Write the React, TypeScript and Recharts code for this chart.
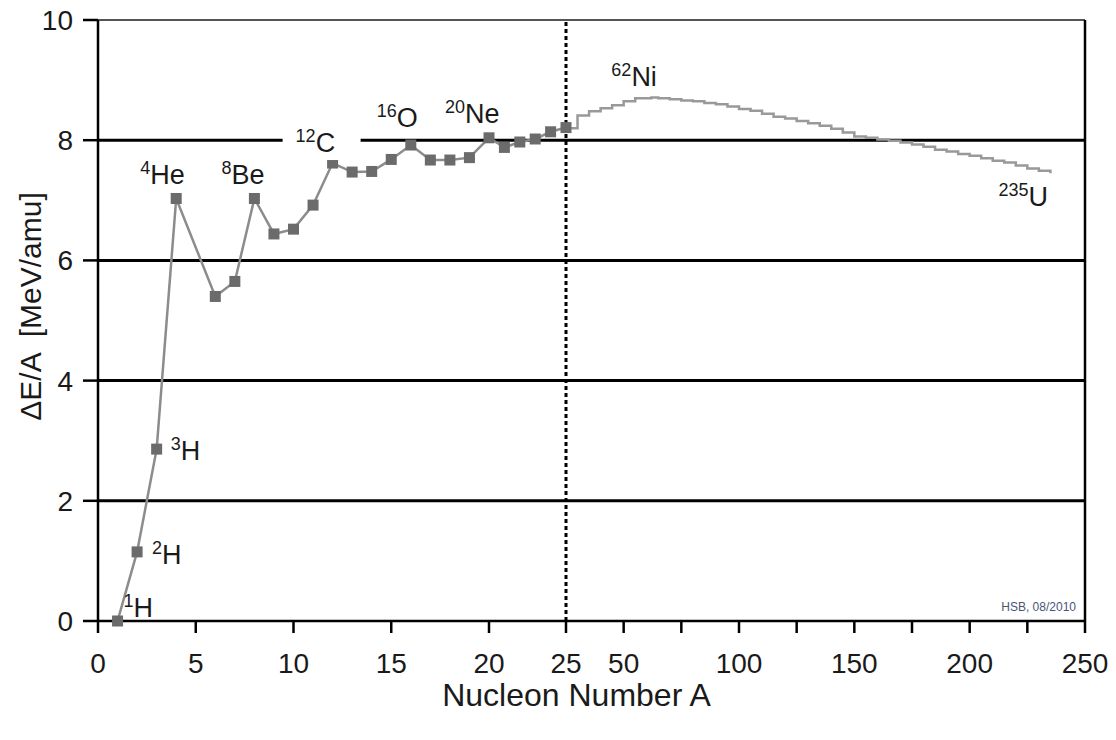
import React from 'react';
import { LineChart, Line, XAxis, YAxis, ReferenceLine, ReferenceDot } from 'recharts';

// light nuclei, one marker per mass number
const lightA = [1, 2, 3, 4, 6, 7, 8, 9, 10, 11, 12, 13, 14, 15, 16, 17, 18, 19, 20, 21, 22, 23, 24, 25];
const lightBE = [0, 1.15, 2.86, 7.03, 5.4, 5.65, 7.03, 6.44, 6.52, 6.92, 7.62, 7.47, 7.48, 7.68, 7.92, 7.67, 7.67, 7.71, 8.04, 7.88, 7.97, 8.02, 8.14, 8.21];

// heavier nuclei, plotted as a plain line
const heavyA = [25, 30, 35, 40, 45, 50, 55, 62, 65, 70, 75, 80, 85, 90, 95, 100, 105, 110, 115, 120, 125, 130, 135, 140, 145, 150, 155, 160, 165, 170, 175, 180, 185, 190, 195, 200, 205, 210, 215, 220, 225, 230, 235];
const heavyBE = [8.2, 8.41, 8.48, 8.53, 8.58, 8.65, 8.7, 8.71, 8.7, 8.68, 8.66, 8.65, 8.62, 8.6, 8.56, 8.52, 8.49, 8.44, 8.39, 8.36, 8.32, 8.28, 8.24, 8.19, 8.13, 8.06, 8.04, 8.01, 7.99, 7.96, 7.93, 7.89, 7.84, 7.81, 7.77, 7.74, 7.7, 7.66, 7.63, 7.58, 7.53, 7.49, 7.45];

const xTickA = [0, 5, 10, 15, 20, 25, 50, 75, 100, 125, 150, 175, 200, 225, 250];
const xTickLabels = ['0', '5', '10', '15', '20', '25', '50', '', '100', '', '150', '', '200', '', '250'];
const yTicks = [0, 2, 4, 6, 8, 10];
const gridY = [2, 4, 6, 8];

const isotopes = [
  { a: 1, sup: '1', sym: 'H' },
  { a: 2, sup: '2', sym: 'H' },
  { a: 3, sup: '3', sym: 'H' },
  { a: 4, sup: '4', sym: 'He' },
  { a: 8, sup: '8', sym: 'Be' },
  { a: 12, sup: '12', sym: 'C' },
  { a: 16, sup: '16', sym: 'O' },
  { a: 20, sup: '20', sym: 'Ne' },
  { a: 62, sup: '62', sym: 'Ni' },
  { a: 235, sup: '235', sym: 'U' },
];

// where each tag sits relative to its point
const tagOffset: Record<number, { dx: number; dy: number; knock?: number }> = {
  1: { dx: 6, dy: -4 },
  2: { dx: 15, dy: 12 },
  3: { dx: 14, dy: 11 },
  4: { dx: -36, dy: -14 },
  8: { dx: -33, dy: -14 },
  12: { dx: -37, dy: -11, knock: 78 },
  16: { dx: -34, dy: -18 },
  20: { dx: -44, dy: -15 },
  62: { dx: -40, dy: -12 },
  235: { dx: -52, dy: 33 },
};

// broken x axis: 0-20 wide, 20-25 squeezed, 25-250 compressed
const breakA = [0, 20, 25, 250];
const breakU = [0, 391, 468, 987];
const toU = (a: number) => {
  for (let i = 1; i < breakA.length; i++) {
    if (a <= breakA[i]) {
      const t = (a - breakA[i - 1]) / (breakA[i] - breakA[i - 1]);
      return breakU[i - 1] + t * (breakU[i] - breakU[i - 1]);
    }
  }
  return breakU[breakU.length - 1];
};

const lightData = lightA.map((a, i) => ({ u: toU(a), be: lightBE[i] }));
const heavyData = heavyA.map((a, i) => ({ u: toU(a), be: heavyBE[i] }));
const xTicks = xTickA.map(toU);

const font = '"Liberation Sans", Arial, sans-serif';

const lookupBE = (a: number) => {
  const i = lightA.indexOf(a);
  if (i >= 0) return lightBE[i];
  return heavyBE[heavyA.indexOf(a)];
};

const Square = (props: any) => {
  const { cx, cy } = props;
  if (cx == null || cy == null) return null;
  return <rect x={cx - 5.5} y={cy - 5.5} width={11} height={11} fill="#6b6b6b" />;
};

const Tag = ({ cx, cy, sup, sym, dx, dy, knock }: any) => (
  <g>
    {knock ? <rect x={cx + dx - 13} y={cy + dy - 28} width={knock} height={36} fill="#fff" /> : null}
    <text x={cx + dx} y={cy + dy} fontFamily={font} fill="#1a1a1a">
      <tspan fontSize={18} dy={-10}>{sup}</tspan>
      <tspan fontSize={27} dy={10}>{sym}</tspan>
    </text>
  </g>
);

export default function App() {
  return (
    <div style={{ position: 'absolute', left: 0, top: 0, width: 1116, height: 740, background: '#fff' }}>
      <LineChart width={1116} height={740} margin={{ top: 20, right: 31, bottom: 0, left: 0 }}>
        <XAxis
          type="number"
          dataKey="u"
          domain={[0, 987]}
          ticks={xTicks}
          interval={0}
          tickFormatter={(v: number) => xTickLabels[xTicks.findIndex(t => Math.abs(t - v) < 0.01)] ?? ''}
          height={119}
          tickSize={12}
          tickMargin={20}
          stroke="#000"
          strokeWidth={2.5}
          tick={{ fill: '#1a1a1a', fontSize: 28, fontFamily: font }}
          label={{
            content: ({ viewBox }: any) => (
              <text x={viewBox.x + viewBox.width / 2 - 15} y={706} textAnchor="middle" fontSize={32} fontFamily={font} fill="#1a1a1a">
                Nucleon Number A
              </text>
            ),
          }}
        />
        <YAxis
          type="number"
          domain={[0, 10]}
          ticks={yTicks}
          interval={0}
          width={98}
          tickSize={15}
          tickMargin={10}
          stroke="#000"
          strokeWidth={2.5}
          tick={{ fill: '#1a1a1a', fontSize: 28, fontFamily: font }}
          label={{
            content: ({ viewBox }: any) => {
              const cx = 30;
              const cy = viewBox.y + viewBox.height / 2 - 14;
              return (
                <text x={cx} y={cy} transform={`rotate(-90 ${cx} ${cy})`} textAnchor="middle" dominantBaseline="central" fontSize={30} fontFamily={font} fill="#1a1a1a" style={{ whiteSpace: 'pre' }}>
                  {'ΔE/A  [MeV/amu]'}
                </text>
              );
            },
          }}
        />
        {gridY.map(v => (
          <ReferenceLine key={v} y={v} stroke="#000" strokeWidth={3} />
        ))}
        <ReferenceLine y={10} stroke="#555" strokeWidth={2} />
        <ReferenceLine x={987} stroke="#000" strokeWidth={2.5} />
        <ReferenceLine x={toU(25)} stroke="#000" strokeWidth={3} strokeDasharray="4 3" />
        <Line
          data={heavyData}
          dataKey="be"
          type="stepAfter"
          stroke="#999"
          strokeWidth={2.5}
          dot={false}
          isAnimationActive={false}
        />
        <Line
          data={lightData}
          dataKey="be"
          type="linear"
          stroke="#8c8c8c"
          strokeWidth={2.5}
          dot={<Square />}
          activeDot={false}
          isAnimationActive={false}
        />
        {isotopes.map(iso => {
          const off = tagOffset[iso.a];
          return (
            <ReferenceDot
              key={iso.a}
              x={toU(iso.a)}
              y={lookupBE(iso.a)}
              r={0}
              shape={(p: any) => <Tag cx={p.cx} cy={p.cy} sup={iso.sup} sym={iso.sym} dx={off.dx} dy={off.dy} knock={off.knock} />}
            />
          );
        })}
        <ReferenceDot
          x={987}
          y={0}
          r={0}
          shape={(p: any) => (
            <text x={p.cx - 9} y={p.cy - 10} textAnchor="end" fontSize={12} fontFamily={font} fill="#4a5578">
              HSB, 08/2010
            </text>
          )}
        />
      </LineChart>
    </div>
  );
}
